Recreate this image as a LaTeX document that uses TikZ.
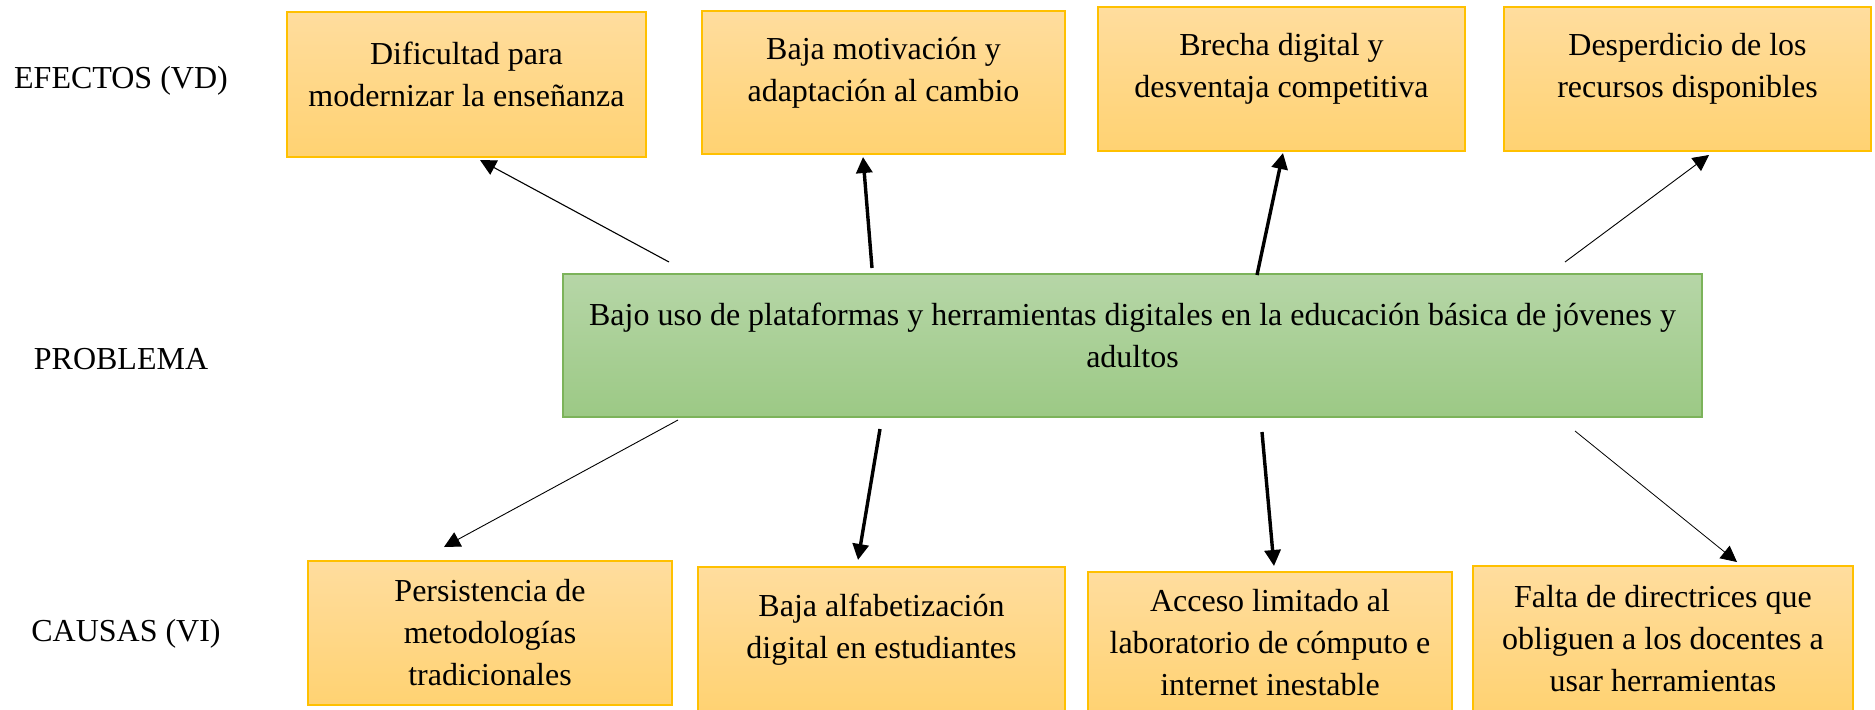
\documentclass[tikz,border=0pt]{standalone}
\usepackage{fontspec}
\setmainfont{Liberation Serif}
\usetikzlibrary{arrows.meta}
\definecolor{obord}{HTML}{FFC000}
\definecolor{otop}{HTML}{FFDD9E}
\definecolor{obot}{HTML}{FFD272}
\definecolor{gbord}{HTML}{7CB35A}
\definecolor{gtop}{HTML}{B6D6A7}
\definecolor{gbot}{HTML}{9CC985}
\newcommand\myliftend{\endgraf\vspace{10pt}}
\begin{document}
\begin{tikzpicture}[x=0.5pt,y=-0.5pt,
  txt/.style={font=\fontsize{16}{21}\selectfont, text=black},
  obox/.style={txt, draw=obord, line width=0.7pt, top color=otop, bottom color=obot,
    align=flush center, text width=172pt, inner sep=0pt},
  gbox/.style={txt, draw=gbord, line width=0.7pt, top color=gtop, bottom color=gbot,
    align=flush center, text width=545pt, inner sep=0pt},
  lift/.style={execute at end node={\myliftend}},
  lbl/.style={txt, inner sep=0pt},
  thick arrow/.style={line width=1.7pt, -{Triangle[length=8pt,width=8pt]}},
  thin arrow/.style={line width=0.55pt, -{Triangle[length=8pt,width=8pt]}}]
\useasboundingbox (0,0) rectangle (1875,709);

% labels
\node[lbl] (efe) at (121,81) {EFECTOS (VD)};
\node[lbl] (pro) at (121,359) {PROBLEMA};
\node[lbl] (cau) at (126,634) {CAUSAS (VI)};

% effects
\node[obox, lift, minimum width=179.5pt, minimum height=72.5pt] (t1) at (466.5,84.5)
  {Dificultad para\\modernizar la enseñanza};
\node[obox, lift, minimum width=181.5pt, minimum height=71.5pt] (t2) at (883.5,82.5)
  {Baja motivación y\\adaptación al cambio};
\node[obox, lift, minimum width=183.5pt, minimum height=72pt] (t3) at (1281.5,79)
  {Brecha digital y\\desventaja competitiva};
\node[obox, lift, minimum width=183.5pt, minimum height=72pt] (t4) at (1687.5,79)
  {Desperdicio de los\\recursos disponibles};

% problem
\node[gbox, lift, minimum width=569.5pt, minimum height=71.5pt] (c) at (1132.5,345.5)
  {Bajo uso de plataformas y herramientas digitales en la educación básica de jóvenes y\\adultos};

% causes
\node[obox, minimum width=182pt, minimum height=72pt] (b1) at (490,633)
  {Persistencia de\\metodologías\\tradicionales};
\node[obox, lift, minimum width=183.5pt, minimum height=72.5pt] (b2) at (881.5,639.5)
  {Baja alfabetización\\digital en estudiantes};
\node[obox, minimum width=182pt, minimum height=70.5pt] (b3) at (1270,642.5)
  {Acceso limitado al\\laboratorio de cómputo e\\internet inestable};
\node[obox, minimum width=190pt, minimum height=73pt] (b4) at (1663,639)
  {Falta de directrices que\\obliguen a los docentes a\\usar herramientas};

% arrow end points
\coordinate (a1s) at (669,262);  \coordinate (a1e) at (480,160);
\coordinate (a2s) at (872,268);  \coordinate (a2e) at (863,157);
\coordinate (a3s) at (1257,275); \coordinate (a3e) at (1283,153);
\coordinate (a4s) at (1565,262); \coordinate (a4e) at (1709,155);
\coordinate (b1s) at (678,420);  \coordinate (b1e) at (444,547);
\coordinate (b2s) at (880,429);  \coordinate (b2e) at (858,560);
\coordinate (b3s) at (1262,432); \coordinate (b3e) at (1274,566);
\coordinate (b4s) at (1575,431); \coordinate (b4e) at (1737,562);

\draw[thin arrow] (a1s) -- (a1e);
\draw[thick arrow] (a2s) -- (a2e);
\draw[thick arrow] (a3s) -- (a3e);
\draw[thin arrow, line width=0.45pt] (a4s) -- (a4e);
\draw[thin arrow, line width=0.45pt] (b1s) -- (b1e);
\draw[thick arrow] (b2s) -- (b2e);
\draw[thick arrow] (b3s) -- (b3e);
\draw[thin arrow, line width=0.4pt] (b4s) -- (b4e);
\end{tikzpicture}
\end{document}
